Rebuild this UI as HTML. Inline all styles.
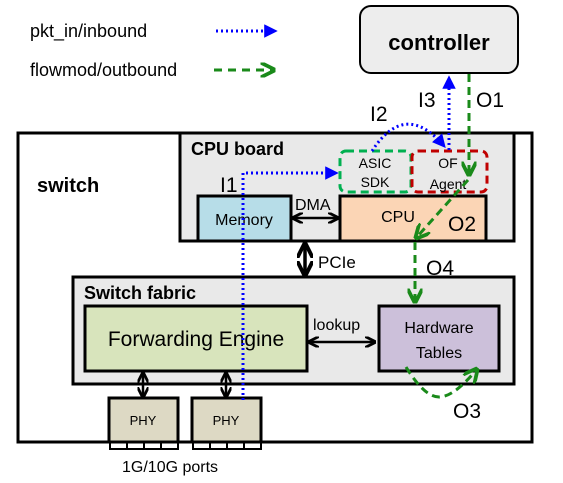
<!DOCTYPE html>
<html><head><style>
body{margin:0;background:#fff;}
svg text{font-family:"Liberation Sans",sans-serif;}
</style></head><body>
<svg width="563" height="478" viewBox="0 0 563 478" xmlns="http://www.w3.org/2000/svg">
<defs>
<marker id="ab" viewBox="0 0 10 10" refX="8" refY="5" markerWidth="4.5" markerHeight="4.5" orient="auto"><path d="M0,0 L10,5 L0,10 z" fill="#0000ff"/></marker>
<marker id="ag" viewBox="0 0 10 10" refX="9" refY="5" markerWidth="5" markerHeight="5" orient="auto"><path d="M0,0 L10,5 L0,10" fill="none" stroke="#1a8a1a" stroke-width="2.5"/></marker>
<marker id="ak" viewBox="0 0 10 10" refX="9" refY="5" markerWidth="4.5" markerHeight="4.5" orient="auto-start-reverse"><path d="M0,0 L10,5 L0,10" fill="none" stroke="#000" stroke-width="2.5"/></marker>
</defs>
<text x="30" y="37" font-size="18">pkt_in/inbound</text>
<line x1="216" y1="31" x2="275" y2="31" stroke="#0000ff" stroke-width="3" stroke-dasharray="2,3" marker-end="url(#ab)"/>
<text x="30" y="76" font-size="18">flowmod/outbound</text>
<line x1="214" y1="70" x2="274" y2="70" stroke="#1a8a1a" stroke-width="3" stroke-dasharray="8,6" marker-end="url(#ag)"/>
<rect x="360" y="6" width="158" height="67" rx="11" fill="#ededed" stroke="#000" stroke-width="2"/>
<text x="439" y="50" font-size="22" font-weight="bold" text-anchor="middle">controller</text>
<rect x="18" y="133" width="514" height="309" fill="#fff" stroke="#000" stroke-width="3"/>
<text x="37" y="192" font-size="20" font-weight="bold">switch</text>
<rect x="180" y="133" width="334" height="108" fill="#e9e9e9" stroke="#000" stroke-width="3"/>
<text x="191" y="155" font-size="18" font-weight="bold">CPU board</text>
<rect x="198" y="196" width="93" height="45" fill="#b7dde8" stroke="#000" stroke-width="3"/>
<text x="244" y="225" font-size="16" text-anchor="middle">Memory</text>
<rect x="340" y="196" width="146" height="45" fill="#fbd5b5" stroke="#000" stroke-width="3"/>
<text x="398" y="222" font-size="16" text-anchor="middle">CPU</text>
<rect x="340" y="151" width="71" height="41" rx="6" fill="#e9e9e9" stroke="#00b050" stroke-width="3" stroke-dasharray="8,5"/>
<text x="375" y="168" font-size="14" text-anchor="middle">ASIC</text>
<text x="375" y="187" font-size="14" text-anchor="middle">SDK</text>
<rect x="412" y="151" width="75" height="41" rx="6" fill="#e9e9e9" stroke="#c00000" stroke-width="3" stroke-dasharray="8,5"/>
<text x="448" y="168" font-size="14" text-anchor="middle">OF</text>
<text x="448" y="189" font-size="14" text-anchor="middle">Agent</text>
<line x1="293" y1="218" x2="338" y2="218" stroke="#000" stroke-width="2.5" marker-start="url(#ak)" marker-end="url(#ak)"/>
<text x="295" y="210" font-size="16">DMA</text>
<line x1="305" y1="244" x2="305" y2="275" stroke="#000" stroke-width="3.5" marker-start="url(#ak)" marker-end="url(#ak)"/>
<text x="318" y="268" font-size="17">PCIe</text>
<rect x="73" y="277" width="441" height="107" fill="#e9e9e9" stroke="#000" stroke-width="3"/>
<text x="84" y="299" font-size="18" font-weight="bold">Switch fabric</text>
<rect x="85" y="306" width="222" height="65" fill="#d8e4bc" stroke="#000" stroke-width="3"/>
<text x="196" y="346" font-size="21" text-anchor="middle">Forwarding Engine</text>
<rect x="379" y="306" width="120" height="65" fill="#ccc0da" stroke="#000" stroke-width="3"/>
<text x="439" y="333" font-size="16" text-anchor="middle">Hardware</text>
<text x="439" y="358" font-size="16" text-anchor="middle">Tables</text>
<line x1="309" y1="342" x2="375" y2="342" stroke="#000" stroke-width="2.5" marker-start="url(#ak)" marker-end="url(#ak)"/>
<text x="313" y="330" font-size="16">lookup</text>
<line x1="143" y1="373" x2="143" y2="397" stroke="#000" stroke-width="2.5" marker-start="url(#ak)" marker-end="url(#ak)"/>
<line x1="226" y1="373" x2="226" y2="397" stroke="#000" stroke-width="2.5" marker-start="url(#ak)" marker-end="url(#ak)"/>
<rect x="109" y="398" width="69" height="44" fill="#ddd9c4" stroke="#000" stroke-width="3"/>
<text x="143" y="425" font-size="13" text-anchor="middle">PHY</text>
<rect x="192" y="398" width="69" height="44" fill="#ddd9c4" stroke="#000" stroke-width="3"/>
<text x="226" y="425" font-size="13" text-anchor="middle">PHY</text>
<g fill="#fff" stroke="#000" stroke-width="2">
<rect x="110" y="442" width="17" height="7"/><rect x="127" y="442" width="17" height="7"/><rect x="144" y="442" width="17" height="7"/><rect x="161" y="442" width="17" height="7"/>
<rect x="193" y="442" width="17" height="7"/><rect x="210" y="442" width="17" height="7"/><rect x="227" y="442" width="17" height="7"/><rect x="244" y="442" width="17" height="7"/>
</g>
<line x1="18" y1="442" x2="532" y2="442" stroke="#000" stroke-width="3"/>
<text x="122" y="472" font-size="16">1G/10G ports</text>
<polyline points="243,400 243,173 336,173" fill="none" stroke="#0000ff" stroke-width="3" stroke-dasharray="2,3" marker-end="url(#ab)"/>
<path d="M372,151 Q405,100 444,146" fill="none" stroke="#0000ff" stroke-width="3" stroke-dasharray="2,3" marker-end="url(#ab)"/>
<line x1="449" y1="150" x2="449" y2="78" stroke="#0000ff" stroke-width="3" stroke-dasharray="2,3" marker-end="url(#ab)"/>
<line x1="469" y1="74" x2="469" y2="175" stroke="#1a8a1a" stroke-width="3" stroke-dasharray="8,5" marker-end="url(#ag)"/>
<line x1="468" y1="180" x2="416" y2="238" stroke="#1a8a1a" stroke-width="3" stroke-dasharray="8,5" marker-end="url(#ag)"/>
<line x1="415" y1="242" x2="415" y2="302" stroke="#1a8a1a" stroke-width="3" stroke-dasharray="8,5" marker-end="url(#ag)"/>
<path d="M406,367 Q425,398 440,397 Q455,396 477,369" fill="none" stroke="#1a8a1a" stroke-width="3" stroke-dasharray="8,5" marker-end="url(#ag)"/>
<g font-size="21">
<text x="220" y="192">I1</text>
<text x="370" y="121">I2</text>
<text x="418" y="107">I3</text>
<text x="476" y="107">O1</text>
<text x="448" y="231">O2</text>
<text x="426" y="275">O4</text>
<text x="453" y="418">O3</text>
</g>
</svg>
</body></html>
